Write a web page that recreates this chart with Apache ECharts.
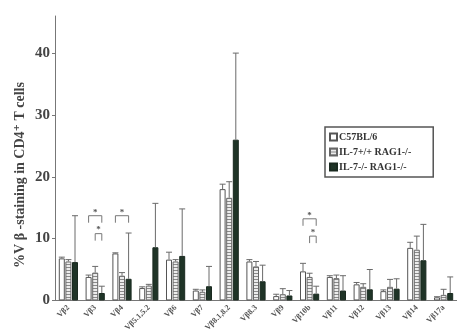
<!DOCTYPE html>
<html>
<head>
<meta charset="utf-8">
<script src="https://cdn.jsdelivr.net/npm/echarts@6/dist/echarts.min.js"></script>
<style>
  html, body {margin: 0; padding: 0; background: #fff;}
  #chart {width: 457px; height: 334px;}
</style>
</head>
<body>
<div id="chart"></div>
<script>
const categories = ["Vβ2", "Vβ3", "Vβ4", "Vβ5.1,5.2", "Vβ6", "Vβ7", "Vβ8.1,8.2", "Vβ8.3",
    "Vβ9", "Vβ10b", "Vβ11", "Vβ12", "Vβ13", "Vβ14", "Vβ17a"];
const seriesNames = ["C57BL/6", "IL-7+/+ RAG1-/-", "IL-7-/- RAG1-/-"];

const c57 = [6.8, 3.8, 7.6, 2.0, 6.6, 1.6, 18.0, 6.3, 0.7, 4.7, 3.8, 2.6, 1.5, 8.5, 0.5];
const c57Sd = [0.2, 0.3, 0.1, 0.2, 1.2, 0.2, 0.8, 0.3, 0.3, 1.3, 0.2, 0.3, 0.2, 0.9, 0.1];
const wt = [6.3, 4.5, 4.0, 2.4, 6.3, 1.4, 16.6, 5.5, 1.0, 3.8, 3.6, 2.2, 2.2, 8.2, 0.9];
const wtSd = [0.3, 1.0, 0.5, 0.2, 0.3, 0.3, 2.6, 0.8, 0.9, 0.6, 0.5, 0.5, 1.2, 2.2, 0.9];
const ko = [6.2, 1.2, 3.5, 8.6, 7.2, 2.3, 26.0, 3.1, 0.8, 1.1, 1.6, 1.8, 1.9, 6.5, 1.2];
const koSd = [7.5, 1.1, 7.4, 7.1, 7.6, 3.2, 14.0, 2.6, 0.8, 1.2, 2.4, 3.2, 1.6, 5.8, 2.6];

// significance brackets: [category index, from series, to series, height]
const brackets = [[1, 0, 2, 13.7], [1, 1, 2, 10.8], [2, 0, 2, 13.7], [9, 0, 2, 13.2], [9, 1, 2, 10.4]];

const BAR_W = 6;
const BAR_STEP = 6.6;
const FONT = "'Liberation Serif', 'DejaVu Serif', serif";

// horizontal stripes for the middle group
const pattern = document.createElement("canvas");
pattern.width = 4;
pattern.height = 3;
const pctx = pattern.getContext("2d");
pctx.fillStyle = "#ececec";
pctx.fillRect(0, 0, 4, 3);
pctx.fillStyle = "#8a8a8a";
pctx.fillRect(0, 0, 4, 1);

const fills = ["#ffffff", {image: pattern, repeat: "repeat"}, "#1f3427"];
const borders = ["#555", "#666", "#1a2a20"];
const values = [c57, wt, ko];
const sds = [c57Sd, wtSd, koSd];

const offsetOf = (s) => (s - 1) * BAR_STEP;

const chart = echarts.init(document.getElementById("chart"));

const barSeries = values.map((vals, s) => ({
    name: seriesNames[s],
    type: "bar",
    barWidth: BAR_W,
    barGap: "10%",
    data: vals,
    itemStyle: {color: fills[s], borderColor: borders[s], borderWidth: 1},
    z: 2
}));

const errorSeries = values.map((vals, s) => ({
    type: "custom",
    z: 3,
    silent: true,
    data: vals.map((v, i) => [i, v, v + sds[s][i]]),
    renderItem: (params, api) => {
        const a = api.coord([api.value(0), api.value(1)]);
        const b = api.coord([api.value(0), api.value(2)]);
        const x = a[0] + offsetOf(s);
        const st = {stroke: "#6a6a6a", lineWidth: 1};
        return {
            type: "group",
            children: [
                {type: "line", shape: {x1: x, y1: a[1], x2: x, y2: b[1]}, style: st},
                {type: "line", shape: {x1: x - 3, y1: b[1], x2: x + 3, y2: b[1]}, style: st}
            ]
        };
    }
}));

const bracketSeries = {
    type: "custom",
    z: 3,
    silent: true,
    data: brackets,
    renderItem: (params, api) => {
        const p = api.coord([api.value(0), api.value(3)]);
        const x1 = p[0] + offsetOf(api.value(1));
        const x2 = p[0] + offsetOf(api.value(2));
        const st = {stroke: "#777", lineWidth: 1, fill: null};
        return {
            type: "group",
            children: [
                {type: "polyline", shape: {points: [[x1, p[1] + 7], [x1, p[1]], [x2, p[1]], [x2, p[1] + 7]]}, style: st},
                {type: "text", style: {text: "*", x: (x1 + x2) / 2, y: p[1] + 1, align: "center",
                    verticalAlign: "bottom", fill: "#555", font: "bold 9px " + FONT}}
            ]
        };
    }
};

chart.setOption({
    animation: false,
    backgroundColor: "#fff",
    grid: {left: 55, right: -4, top: 16, bottom: 32},
    legend: {
        data: seriesNames,
        orient: "vertical",
        left: 325,
        top: 127,
        padding: [5, 22, 5, 4],
        itemGap: 5,
        itemWidth: 7,
        itemHeight: 7,
        borderColor: "#555",
        borderWidth: 1.5,
        borderRadius: 0,
        icon: "rect",
        textStyle: {fontFamily: FONT, fontWeight: "bold", fontSize: 10, color: "#333", padding: [0, 0, 0, -3]}
    },
    graphic: [{
        type: "text",
        x: 20,
        y: 175,
        rotation: Math.PI / 2,
        style: {
            text: "%V β -staining in CD4⁺ T cells",
            fill: "#444",
            font: "bold 14px " + FONT,
            align: "center",
            verticalAlign: "middle"
        }
    }],
    xAxis: {
        type: "category",
        data: categories,
        axisLine: {lineStyle: {color: "#777", width: 1}},
        axisTick: {show: false},
        axisLabel: {
            interval: 0,
            rotate: 45,
            margin: 6,
            fontFamily: FONT,
            fontWeight: "bold",
            fontSize: 8,
            color: "#555"
        }
    },
    yAxis: {
        type: "value",
        min: 0,
        max: 46,
        interval: 10,
        splitLine: {show: false},
        axisLine: {show: true, lineStyle: {color: "#777", width: 1}},
        axisTick: {show: true, length: 3, lineStyle: {color: "#777"}},
        axisLabel: {
            showMaxLabel: false,
            margin: 5,
            fontFamily: FONT,
            fontWeight: "bold",
            fontSize: 15,
            color: "#444"
        }
    },
    series: [...barSeries, ...errorSeries, bracketSeries]
});
</script>
</body>
</html>
